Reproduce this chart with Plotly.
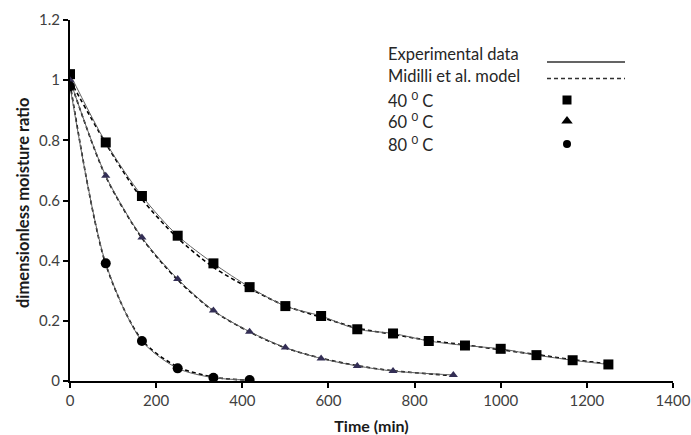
import plotly.graph_objects as go

# ---- data ----
t40 = [0, 83, 167, 250, 333, 417, 500, 583, 667, 750, 833, 917, 1000, 1083, 1167, 1250]
exp40 = [1.02, 0.793, 0.615, 0.483, 0.391, 0.312, 0.249, 0.216, 0.172, 0.158, 0.133, 0.118, 0.107, 0.086, 0.069, 0.055]
mod40 = [1.00, 0.790, 0.605, 0.475, 0.378, 0.308, 0.250, 0.212, 0.176, 0.155, 0.135, 0.120, 0.104, 0.088, 0.071, 0.057]

t60 = [0, 83, 167, 250, 333, 417, 500, 583, 667, 750, 890]
exp60 = [1.00, 0.682, 0.477, 0.339, 0.234, 0.164, 0.111, 0.075, 0.050, 0.033, 0.020]
mod60 = [1.00, 0.680, 0.475, 0.336, 0.233, 0.163, 0.110, 0.076, 0.051, 0.034, 0.018]

t80 = [0, 83, 167, 250, 333, 417]
exp80 = [0.98, 0.391, 0.133, 0.042, 0.011, 0.003]
mod80 = [0.99, 0.388, 0.136, 0.047, 0.013, 0.002]

x_ticks = [0, 200, 400, 600, 800, 1000, 1200, 1400]
y_ticks = [0, 0.2, 0.4, 0.6, 0.8, 1, 1.2]
y_tick_labels = ["0", "0.2", "0.4", "0.6", "0.8", "1", "1.2"]

legend_labels = ["Experimental data", "Midilli et al. model", "40 <sup>0</sup> C", "60 <sup>0</sup> C", "80 <sup>0</sup> C"]

FONT = "Lato"
L, R, T, B = 70, 18, 20, 54
PW = 691 - L - R
PH = 435 - T - B

fig = go.Figure()

series = [
    (t40, exp40, mod40, "square", "black", 10),
    (t60, exp60, mod60, "triangle-up", "#332e55", 8),
    (t80, exp80, mod80, "circle", "black", 10),
]

for t, e, m, sym, col, sz in series:
    fig.add_trace(go.Scatter(x=t, y=m, mode="lines", line=dict(color="black", width=1.6, dash="4px,3px", shape="spline", smoothing=0.8),
                             showlegend=False, hoverinfo="skip"))
    fig.add_trace(go.Scatter(x=t, y=e, mode="lines+markers",
                             line=dict(color="#606060", width=1, shape="spline", smoothing=0.8),
                             marker=dict(symbol=sym, color=col, size=sz, line=dict(width=0)),
                             showlegend=False))

def px(xp):
    return (xp - L) / PW

def py(yp):
    return (435 - B - yp) / PH

# legend symbols on an overlay axis in [0,1] coordinates
leg_sym = ["square", "triangle-up", "circle"]
leg_ypx = [100, 121, 144]
for s, yy, sz in zip(leg_sym, leg_ypx, [9, 10, 8]):
    fig.add_trace(go.Scatter(x=[px(567)], y=[py(yy)], mode="markers", xaxis="x2", yaxis="y2",
                             marker=dict(symbol=s, color="black", size=sz), showlegend=False, hoverinfo="skip"))

shapes = [
    dict(type="line", xref="paper", yref="paper", x0=px(547), x1=px(625), y0=py(62), y1=py(62),
         line=dict(color="#303030", width=1.4)),
    dict(type="line", xref="paper", yref="paper", x0=px(547), x1=px(625), y0=py(78.5), y1=py(78.5),
         line=dict(color="#303030", width=1.4, dash="4px,3px")),
]

ann_ypx = [54, 76.5, 100, 121.5, 143.5]
annotations = [dict(x=px(386), y=py(yy), xref="paper", yref="paper", text=txt, showarrow=False,
                    xanchor="left", yanchor="middle", font=dict(family=FONT, size=16.5, color="#262626"))
               for txt, yy in zip(legend_labels, ann_ypx)]
annotations.append(dict(x=px(23), y=py(203), xref="paper", yref="paper",
                        text="<b>dimensionless moisture ratio</b>", textangle=-90, showarrow=False,
                        xanchor="center", yanchor="middle",
                        font=dict(family=FONT, size=16.5, color="#1a1a1a")))

fig.update_layout(
    width=691, height=435,
    margin=dict(l=L, r=R, t=T, b=B),
    paper_bgcolor="white", plot_bgcolor="white",
    font=dict(family=FONT, size=15, color="#404040"),
    xaxis=dict(range=[0, 1400], tickvals=x_ticks, showgrid=False, zeroline=False, automargin=False,
               showline=True, linecolor="black", linewidth=2, ticks="outside", ticklen=5,
               tickwidth=2, tickcolor="black", ticklabeloverflow="allow",
               title=dict(text="<b>Time (min)</b>", font=dict(family=FONT, size=16, color="#1a1a1a"))),
    yaxis=dict(range=[0, 1.2], tickvals=y_ticks, ticktext=y_tick_labels, showgrid=False, zeroline=False, automargin=False,
               showline=True, linecolor="black", linewidth=2, ticks="outside", ticklen=5,
               tickwidth=2, tickcolor="black"),
    xaxis2=dict(overlaying="x", range=[0, 1], visible=False, anchor="y2"),
    yaxis2=dict(overlaying="y", range=[0, 1], visible=False, anchor="x2"),
    shapes=shapes,
    annotations=annotations,
)

fig.write_html("out.html")
